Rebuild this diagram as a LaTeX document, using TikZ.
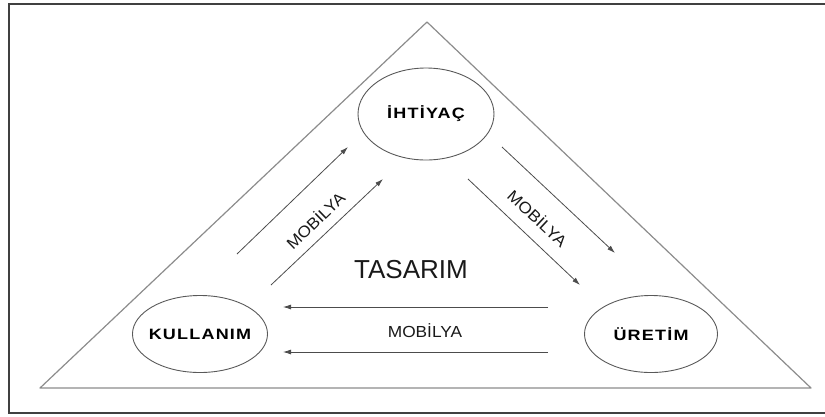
\documentclass[tikz,border=0pt]{standalone}
\usepackage{fontspec}
\setmainfont{Liberation Sans}
\newfontfamily\stagefont[FakeStretch=1.2,LetterSpace=8]{Liberation Sans}
\newfontfamily\flowfont[FakeStretch=1.08]{Liberation Sans}
\usetikzlibrary{shapes.geometric, positioning, calc, arrows.meta}

\begin{document}
\begin{tikzpicture}[x=1pt, y=-1pt,
    stage/.style={ellipse, 
      draw=black!65, 
      line width=0.9pt, 
      inner xsep=-12pt, 
      inner ysep=0pt, 
      minimum width=135pt, 
      minimum height=77pt, 
      font=\stagefont\bfseries\fontsize{15}{18}\selectfont},
    flow/.style={-{Latex[length=8pt,width=5pt]}, 
      draw=black!70, 
      line width=0.8pt},
    flowtext/.style={font=\flowfont\fontsize{16}{19}\selectfont, 
      text=black!90}]
  \useasboundingbox (0,0) rectangle (825,416);

  % frame and triangle
  \draw[black!75, line width=1.5pt] (9,4) rectangle (840,413);
  \coordinate (apex) at (427,22);
  \coordinate (baseleft) at (40,388);
  \coordinate (baseright) at (811,388);
  \draw[black!45, line width=1.2pt, line join=round] 
  (apex) -- (baseleft) -- (baseright) -- cycle;

  \node [stage, minimum width=136pt, minimum height=92pt] (ihtiyac) at (426,114) {İHTİYAÇ};
  \node [stage] (kullanim) at (200,334) {KULLANIM};
  \node [stage, minimum width=133pt] (uretim) at (651,334) {ÜRETİM};

  \node [font=\fontsize{26}{30}\selectfont, text=black!90] (tasarim) at (411,270) {TASARIM};

  % kullanim -> ihtiyac
  \coordinate (ki1) at ($(kullanim) + (37,-80)$);
  \coordinate (ik1) at ($(ihtiyac) + (-78,33)$);
  \coordinate (ki2) at ($(kullanim) + (71,-49)$);
  \coordinate (ik2) at ($(ihtiyac) + (-43,65)$);
  \draw[flow] (ki1) -- (ik1);
  \draw[flow] (ki2) -- (ik2);
  \node [flowtext, rotate=44] (mobilyaleft) at (315,220) {MOBİLYA};

  % ihtiyac -> uretim
  \coordinate (iu1) at ($(ihtiyac) + (76,33)$);
  \coordinate (ui1) at ($(uretim) + (-36,-81)$);
  \coordinate (iu2) at ($(ihtiyac) + (42,65)$);
  \coordinate (ui2) at ($(uretim) + (-71,-49)$);
  \draw[flow] (iu1) -- (ui1);
  \draw[flow] (iu2) -- (ui2);
  \node [flowtext, rotate=-43] (mobilyaright) at (538,218) {MOBİLYA};

  % uretim -> kullanim
  \coordinate (uk1) at ($(uretim) + (-103,-27)$);
  \coordinate (ku1) at ($(kullanim) + (83,-27)$);
  \coordinate (uk2) at ($(uretim) + (-103,18)$);
  \coordinate (ku2) at ($(kullanim) + (83,18)$);
  \draw[flow] (uk1) -- (ku1);
  \draw[flow] (uk2) -- (ku2);
  \node [flowtext] (mobilyabottom) at (425,331) {MOBİLYA};

\end{tikzpicture}
\end{document}
